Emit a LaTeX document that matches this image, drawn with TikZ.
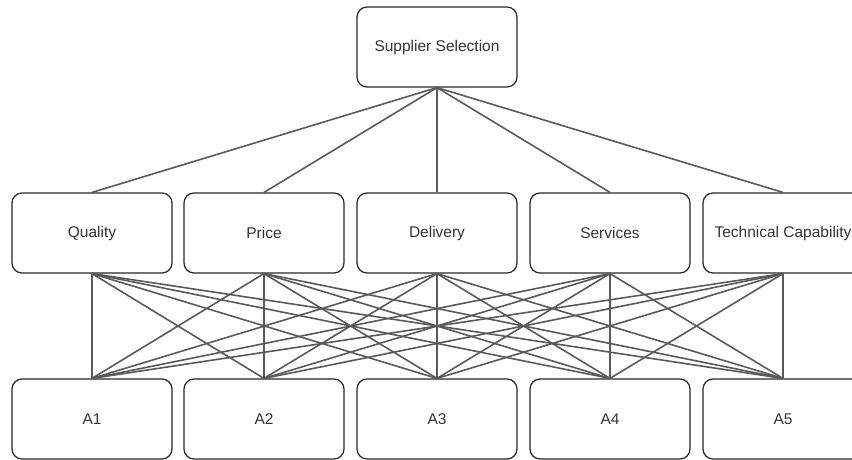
\documentclass[tikz,border=0pt]{standalone}
\usepackage{fontspec}
\setmainfont{Liberation Sans}
\begin{document}
\begin{tikzpicture}[x=1pt,y=-1pt,
  box/.style={draw=black!85,line width=1.2pt,rounded corners=10pt,minimum width=160pt,minimum height=80pt,inner sep=0pt,font=\fontsize{15.5}{18}\selectfont,text=black!80},
  conn/.style={draw=black!65,line width=1.6pt}]
\useasboundingbox (0,0) rectangle (852,460);
\clip (0,0) rectangle (852,460);
\node[box] (top) at (437,47) {Supplier Selection};
\foreach \n/\x/\t in {1/92/Quality,2/264/Price,3/437/Delivery,4/610/Services,5/783/Technical Capability}{
  \node[box] (m\n) at (\x,233) {\t};
}
\foreach \n/\x in {1/92,2/264,3/437,4/610,5/783}{
  \node[box] (b\n) at (\x,419) {A\n};
}
\foreach \i in {1,...,5}{
  \draw[conn] (top.south) -- (m\i.north);
  \foreach \j in {1,...,5}{
    \draw[conn] (m\i.south) -- (b\j.north);
  }
}
\end{tikzpicture}
\end{document}
